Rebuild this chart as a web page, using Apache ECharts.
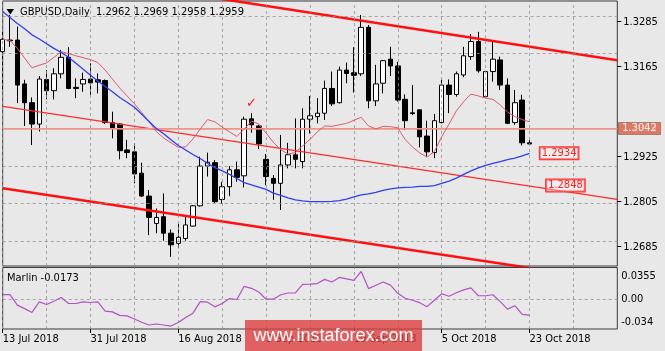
<!DOCTYPE html>
<html><head><meta charset="utf-8">
<script src="https://cdn.jsdelivr.net/npm/echarts@6/dist/echarts.min.js"></script>
<style>html,body{margin:0;padding:0;background:#e8e8e8}#c{width:665px;height:351px}</style>
</head><body><div id="c"></div>
<script>
const FONT = "'DejaVu Sans Condensed','Liberation Sans',Arial,sans-serif";
const symbolName = 'GBPUSD';
const timeframe = 'Daily';

const dates = ['13 Jul 2018','16 Jul 2018','17 Jul 2018','18 Jul 2018','19 Jul 2018','20 Jul 2018','23 Jul 2018','24 Jul 2018','25 Jul 2018','26 Jul 2018','27 Jul 2018','30 Jul 2018','31 Jul 2018',
'1 Aug 2018','2 Aug 2018','3 Aug 2018','6 Aug 2018','7 Aug 2018','8 Aug 2018','9 Aug 2018','10 Aug 2018','13 Aug 2018','14 Aug 2018','15 Aug 2018','16 Aug 2018','17 Aug 2018','20 Aug 2018','21 Aug 2018','22 Aug 2018','23 Aug 2018','24 Aug 2018','27 Aug 2018','28 Aug 2018','29 Aug 2018','30 Aug 2018','31 Aug 2018',
'3 Sep 2018','4 Sep 2018','5 Sep 2018','6 Sep 2018','7 Sep 2018','10 Sep 2018','11 Sep 2018','12 Sep 2018','13 Sep 2018','14 Sep 2018','17 Sep 2018','18 Sep 2018','19 Sep 2018','20 Sep 2018','21 Sep 2018','24 Sep 2018','25 Sep 2018','26 Sep 2018','27 Sep 2018','28 Sep 2018',
'1 Oct 2018','2 Oct 2018','3 Oct 2018','4 Oct 2018','5 Oct 2018','8 Oct 2018','9 Oct 2018','10 Oct 2018','11 Oct 2018','12 Oct 2018','15 Oct 2018','16 Oct 2018','17 Oct 2018','18 Oct 2018','19 Oct 2018','22 Oct 2018','23 Oct 2018'];
const futureSlots = 12;

const opens = [1.3205,1.3234,1.3236,1.3119,1.3069,1.3012,1.3131,1.3101,1.3146,1.3190,
1.3110,1.3119,1.3132,1.3130,1.3128,1.3016,1.3012,1.2943,1.2938,1.2881,
1.2820,1.2747,1.2765,1.2721,1.2694,1.2707,1.2740,1.2794,1.2900,1.2909,
1.2811,1.2845,1.2890,1.2874,1.3026,1.3007,1.2918,1.2867,1.2854,1.2903,
1.2930,1.2912,1.3025,1.3032,1.3041,1.3107,1.3069,1.3156,1.3149,1.3146,
1.3270,1.3074,1.3121,1.3185,1.3167,1.3078,1.3042,1.3050,1.2980,1.2936,
1.3016,1.3116,1.3091,1.3143,1.3192,1.3232,1.3085,1.3152,1.3183,1.3116,
1.3016,1.3076,1.2962];
const highs = [1.3262,1.3303,1.3272,1.3130,1.3083,1.3140,1.3156,1.3161,1.3210,1.3217,
1.3134,1.3149,1.3174,1.3147,1.3131,1.3045,1.3014,1.2970,1.2961,1.2909,
1.2836,1.2787,1.2827,1.2731,1.2746,1.2767,1.2796,1.2925,1.2936,1.2916,
1.2858,1.2900,1.2912,1.3032,1.3041,1.3010,1.2932,1.2876,1.2983,1.2962,
1.3027,1.3054,1.3087,1.3081,1.3128,1.3152,1.3165,1.3176,1.3217,1.3303,
1.3276,1.3170,1.3183,1.3218,1.3178,1.3091,1.3116,1.3050,1.3021,1.3039,
1.3130,1.3131,1.3152,1.3218,1.3252,1.3258,1.3154,1.3236,1.3192,1.3134,
1.3103,1.3090,1.2969];
const lows = [1.3103,1.3218,1.3068,1.3007,1.2956,1.2992,1.3078,1.3078,1.3134,1.3105,
1.3081,1.3098,1.3090,1.3094,1.3012,1.2974,1.2918,1.2921,1.2854,1.2818,
1.2716,1.2721,1.2701,1.2658,1.2681,1.2701,1.2739,1.2792,1.2872,1.2801,
1.2799,1.2820,1.2858,1.2843,1.2989,1.2945,1.2849,1.2810,1.2783,1.2894,
1.2894,1.2894,1.2987,1.3014,1.3023,1.3060,1.3067,1.3121,1.3096,1.3140,
1.3054,1.3060,1.3094,1.3140,1.3072,1.2996,1.3036,1.2950,1.2925,1.2921,
1.3014,1.3041,1.3085,1.3137,1.3183,1.3149,1.3083,1.3125,1.3103,1.3012,
1.3010,1.2955,1.2958];
const closes = [1.3238,1.3236,1.3116,1.3069,1.3012,1.3132,1.3101,1.3146,1.3190,1.3107,
1.3107,1.3131,1.3122,1.3124,1.3016,1.3001,1.2941,1.2936,1.2879,1.2820,
1.2763,1.2763,1.2721,1.2690,1.2710,1.2743,1.2794,1.2900,1.2910,1.2805,
1.2845,1.2890,1.2870,1.3025,1.3010,1.2959,1.2872,1.2854,1.2903,1.2930,
1.2918,1.3025,1.3034,1.3041,1.3107,1.3066,1.3156,1.3147,1.3142,1.3270,
1.3074,1.3119,1.3181,1.3167,1.3076,1.3021,1.3040,1.2978,1.2938,1.3021,
1.3116,1.3091,1.3146,1.3194,1.3232,1.3154,1.3152,1.3185,1.3116,1.3014,
1.3069,1.2962,1.2959];

const maRed = [1.3238,1.3235,1.3214,1.3188,1.3162,1.3169,1.3175,1.3190,1.3205,1.3200,
1.3194,1.3189,1.3184,1.3176,1.3156,1.3132,1.3108,1.3087,1.3066,1.3043,
1.3018,1.2992,1.2975,1.2962,1.2950,1.2951,1.2972,1.2999,1.3024,1.3018,
1.3004,1.2991,1.2979,1.2998,1.3020,1.3012,1.2988,1.2963,1.2944,1.2932,
1.2936,1.2954,1.2971,1.2991,1.3007,1.3006,1.3010,1.3014,1.3022,1.3030,
1.3007,1.2999,1.3006,1.3005,1.3002,1.2971,1.2951,1.2935,1.2924,1.2939,
1.2978,1.3012,1.3047,1.3072,1.3092,1.3087,1.3081,1.3078,1.3063,1.3044,
1.3032,1.3024,1.3018];
const maBlue = [1.3312,1.3296,1.3280,1.3266,1.3250,1.3239,1.3226,1.3214,1.3203,1.3190,
1.3174,1.3158,1.3142,1.3127,1.3112,1.3098,1.3083,1.3070,1.3057,1.3038,
1.3019,1.3000,1.2986,1.2970,1.2955,1.2943,1.2931,1.2920,1.2907,1.2896,
1.2887,1.2878,1.2867,1.2856,1.2850,1.2844,1.2838,1.2828,1.2822,1.2815,
1.2810,1.2807,1.2805,1.2805,1.2805,1.2806,1.2808,1.2812,1.2818,1.2823,
1.2826,1.2830,1.2835,1.2839,1.2842,1.2843,1.2844,1.2846,1.2846,1.2848,
1.2854,1.2860,1.2868,1.2878,1.2887,1.2895,1.2902,1.2907,1.2912,1.2917,
1.2921,1.2927,1.2934];
const marlin = [0.0076,0.0076,-0.0086,-0.0139,-0.0197,-0.0036,-0.0076,-0.0026,0.0030,-0.0061,
-0.0061,-0.0036,-0.0045,-0.0036,-0.0177,-0.0188,-0.0242,-0.0250,-0.0297,-0.0347,
-0.0389,-0.0374,-0.0389,-0.0405,-0.0352,-0.0276,-0.0208,-0.0033,-0.0041,-0.0112,
-0.0061,0.0015,0.0000,0.0202,0.0171,0.0115,0.0005,0.0005,0.0073,0.0100,
0.0100,0.0232,0.0236,0.0244,0.0308,0.0267,0.0338,0.0315,0.0292,0.0429,
0.0167,0.0217,0.0267,0.0220,0.0095,0.0020,-0.0011,-0.0048,-0.0109,-0.0011,
0.0088,0.0050,0.0103,0.0148,0.0179,0.0058,0.0058,0.0073,-0.0033,-0.0147,
-0.0094,-0.0227,-0.0238];
const marlinReadout = '-0.0173';

// trend lines: [index, price] endpoints
const channelUpper = [[0, 1.3436], [84, 1.3182]];
const channelLower = [[0, 1.2841], [84, 1.2593]];
const channelMid = [[0, 1.3059], [84, 1.2811]];

const priceGrid = [1.2685, 1.2805, 1.2925, 1.3045, 1.3165, 1.3285];
const priceLabels = [1.2685, 1.2805, 1.2925, 1.3165, 1.3285];
const timeGrid = [0, 6, 12, 18, 24, 30, 36, 42, 48, 54, 60, 66, 72, 78];
const levelPrice = 1.3042;
const bidPrice = 1.2959;
const maBlueTag = 1.2934;
const midLineTag = 1.2848;
const marlinLabels = [0.0355, 0, -0.034];
const priceMin = 1.26335, priceMax = 1.33402;
const marlinMin = -0.045, marlinMax = 0.0489;

const cats = dates.concat(Array.from({length: futureSlots}, (_, k) => 'f' + k));
const candleData = opens.map((o, i) => [o, closes[i], lows[i], highs[i]]);
const labelIdx = (i) => i % 12 === 0 && i < dates.length;
const gridDash = {color: '#8e8e8e', width: 1, type: [3, 3], opacity: 0.75};
const txt = {fontFamily: FONT, fontSize: 11, color: '#000'};
const gridMarkLines = (withH) => ({silent: true, symbol: ['none', 'none'], label: {show: false}, lineStyle: gridDash,
  data: (withH ? priceGrid.map(p => ({yAxis: p})) : [{yAxis: 0}]).concat(timeGrid.map(i => ({xAxis: i})))});

const chart = echarts.init(document.getElementById('c'), null, {renderer: 'canvas'});
chart.setOption({
  animation: false,
  backgroundColor: '#e8e8e8',
  grid: [
    {left: 2.7, right: 47.7, top: 1, height: 265, show: true, borderColor: '#3a3a3a', borderWidth: 1, containLabel: false, outerBoundsMode: 'none'},
    {left: 2.7, right: 47.7, top: 267.5, height: 61.5, show: true, borderColor: '#3a3a3a', borderWidth: 1, containLabel: false, outerBoundsMode: 'none'}
  ],
  xAxis: [
    {type: 'category', gridIndex: 0, data: cats, boundaryGap: false,
     axisLine: {show: false, onZero: false}, axisTick: {show: false}, axisLabel: {show: false},
     splitLine: {show: false}},
    {type: 'category', gridIndex: 1, data: cats, boundaryGap: false, position: 'bottom',
     axisLine: {show: false, onZero: false},
     axisTick: {show: true, interval: labelIdx, length: 4, lineStyle: {color: '#000'}},
     axisLabel: Object.assign({show: true, interval: labelIdx, align: 'left', margin: 5}, txt),
     splitLine: {show: false}}
  ],
  yAxis: [
    {type: 'value', gridIndex: 0, position: 'right', min: priceMin, max: priceMax, scale: true,
     splitLine: {show: false}, axisLine: {show: false},
     axisTick: {show: true, customValues: priceLabels, length: 4, lineStyle: {color: '#000'}},
     axisLabel: Object.assign({customValues: priceLabels, margin: 6, formatter: v => Number(v).toFixed(4)}, txt)},
    {type: 'value', gridIndex: 1, position: 'right', min: marlinMin, max: marlinMax,
     splitLine: {show: false}, axisLine: {show: false}, axisTick: {show: false},
     axisLabel: Object.assign({customValues: marlinLabels, margin: 4,
       formatter: v => (Math.abs(v) < 1e-9 ? '0.00' : String(Number(v.toFixed(4))))}, txt)}
  ],
  series: [
    {type: 'line', name: 'grid', xAxisIndex: 0, yAxisIndex: 0, z: 1, silent: true, data: [],
     markLine: gridMarkLines(true)},
    {type: 'line', name: 'bid', xAxisIndex: 0, yAxisIndex: 0, z: 1, silent: true, data: [],
     markLine: {silent: true, symbol: ['none', 'none'],
       data: [{yAxis: bidPrice, lineStyle: {color: '#bdbdbd', width: 1, type: 'solid'},
         label: {show: true, position: 'end', distance: 1, formatter: bidPrice.toFixed(4), backgroundColor: '#000', color: '#fff', padding: [1, 4, 0, 4], fontFamily: FONT, fontSize: 11}}]}},
    {type: 'candlestick', name: symbolName, xAxisIndex: 0, yAxisIndex: 0, z: 2, barWidth: 5, data: candleData,
     itemStyle: {color: '#ffffff', color0: '#000000', borderColor: '#000000', borderColor0: '#000000', borderWidth: 1}},
    {type: 'line', name: 'level', xAxisIndex: 0, yAxisIndex: 0, z: 3, silent: true, data: [],
     markLine: {silent: true, symbol: ['none', 'none'],
       data: [{yAxis: levelPrice, lineStyle: {color: '#f5877a', width: 1.6, type: 'solid', opacity: 0.9},
         label: {show: true, position: 'end', distance: 1, formatter: levelPrice.toFixed(4), backgroundColor: '#f3866f', color: '#fff', padding: [1, 4, 0, 4], fontFamily: FONT, fontSize: 11}}]}},
    {type: 'line', name: 'upper', xAxisIndex: 0, yAxisIndex: 0, z: 4, data: channelUpper, showSymbol: false, clip: true,
     lineStyle: {color: '#ff1010', width: 2.5}},
    {type: 'line', name: 'lower', xAxisIndex: 0, yAxisIndex: 0, z: 4, data: channelLower, showSymbol: false, clip: true,
     lineStyle: {color: '#ff1010', width: 2.5}},
    {type: 'line', name: 'mid', xAxisIndex: 0, yAxisIndex: 0, z: 4, data: channelMid, showSymbol: false, clip: true,
     lineStyle: {color: '#ff2a2a', width: 1.3},
     markPoint: {symbol: 'circle', symbolSize: 0, silent: true,
       data: [{coord: [74, midLineTag], label: {show: true, position: 'right', distance: 2, formatter: midLineTag.toFixed(4), color: '#ff2020', borderColor: '#ff3030', borderWidth: 1, padding: [1, 2, 0, 2], backgroundColor: 'rgba(255,255,255,0.3)', fontFamily: FONT, fontSize: 11}}]}},
    {type: 'line', name: 'maRed', xAxisIndex: 0, yAxisIndex: 0, z: 5, data: maRed, showSymbol: false,
     lineStyle: {color: '#e2586c', width: 1},
     markPoint: {symbol: 'circle', symbolSize: 0, silent: true,
       data: [{coord: [34, 1.3067], label: {show: true, position: 'inside', formatter: '\u2713', color: '#f01c1c', fontSize: 13, fontWeight: 'bold', fontFamily: 'DejaVu Sans'}}]}},
    {type: 'line', name: 'maBlue', xAxisIndex: 0, yAxisIndex: 0, z: 5, data: maBlue, showSymbol: false,
     lineStyle: {color: '#2f3ff2', width: 1.3},
     markPoint: {symbol: 'circle', symbolSize: 0, silent: true,
       data: [{coord: [73, maBlueTag], label: {show: true, position: 'right', distance: 3, formatter: maBlueTag.toFixed(4), color: '#ff2020', borderColor: '#ff3030', borderWidth: 1, padding: [1, 2, 0, 2], backgroundColor: 'rgba(255,255,255,0.3)', fontFamily: FONT, fontSize: 11}}]}},
    {type: 'line', name: 'Marlin', xAxisIndex: 1, yAxisIndex: 1, z: 5, data: marlin, showSymbol: false,
     lineStyle: {color: '#b452c6', width: 1.2},
     markLine: gridMarkLines(false)}
  ],
  graphic: [
    {type: 'polygon', shape: {points: [[6.5, 9], [14, 9], [10.25, 14.5]]}, style: {fill: '#000'}, silent: true},
    {type: 'text', x: 20, y: 12.5, silent: true,
     style: {text: symbolName + ',' + timeframe + '  ' + [opens[72], highs[72], lows[72], closes[72]].map(v => v.toFixed(4)).join(' '),
       fill: '#000', fontFamily: FONT, fontSize: 11, verticalAlign: 'middle', align: 'left'}},
    {type: 'text', x: 7, y: 278, silent: true,
     style: {text: 'Marlin ' + marlinReadout, fill: '#000', fontFamily: FONT, fontSize: 11, verticalAlign: 'middle', align: 'left'}},
    {type: 'rect', shape: {x: 245, y: 320, width: 177, height: 31}, style: {fill: 'rgba(221,62,62,0.8)'}, silent: true, z: 100},
    {type: 'text', x: 333.5, y: 336, silent: true, z: 101,
     style: {text: 'www.instaforex.com', fill: '#fff', fontFamily: "'Liberation Sans',Arial,sans-serif", fontSize: 18, align: 'center', verticalAlign: 'middle'}}
  ]
});
</script></body></html>
